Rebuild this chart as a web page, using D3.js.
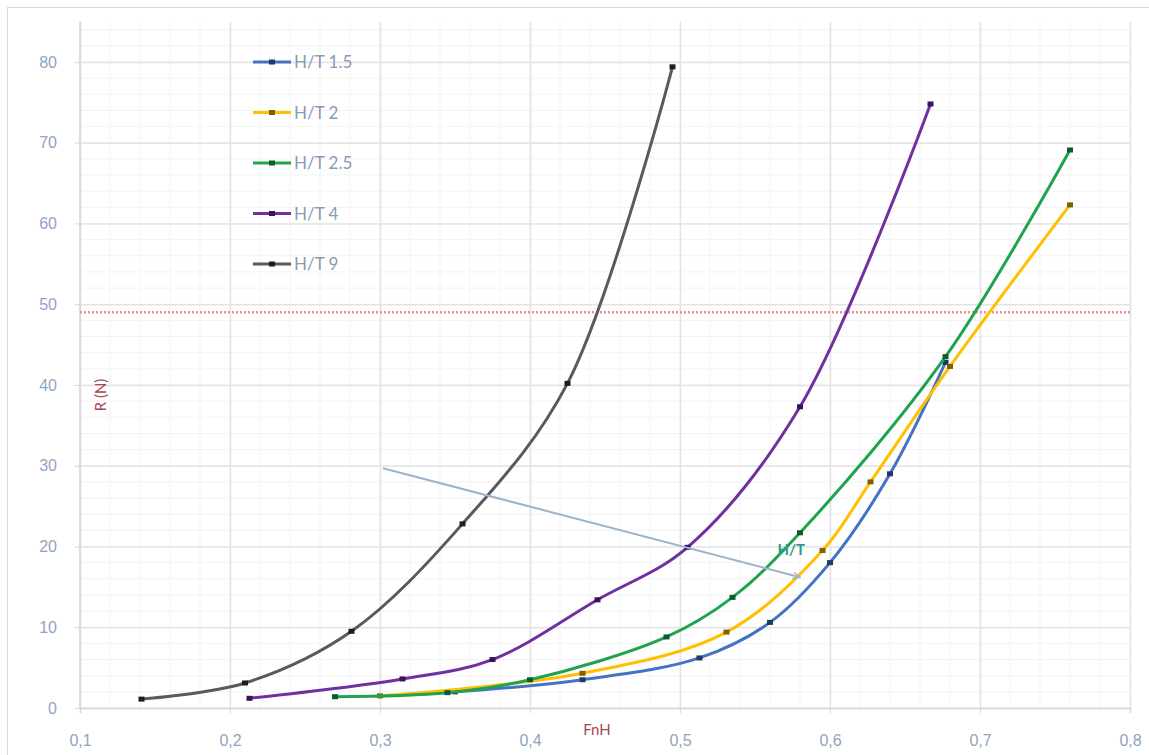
<!DOCTYPE html>
<html>
<head>
<meta charset="utf-8">
<script src="https://cdn.jsdelivr.net/npm/d3@7"></script>
<style>
  html, body { margin: 0; padding: 0; background: #ffffff; }
  svg { display: block; font-family: Lato, "Open Sans", "Liberation Sans", sans-serif; }
</style>
</head>
<body>
<svg id="chart" width="1149" height="755"></svg>
<script>
// Resistance R (N) against depth Froude number FnH for several H/T ratios
const seriesNames = ["H/T 1.5", "H/T 2", "H/T 2.5", "H/T 4", "H/T 9"];
const seriesColors = ["#4472C4", "#FFC000", "#1FA34F", "#7030A0", "#5A5A5A"];
const markerColors = ["#203864", "#7F6000", "#0E5A2B", "#3A1458", "#1E1E1E"];

const fnhHT15 = [0.350, 0.435, 0.513, 0.560, 0.600, 0.640, 0.677];
const resHT15 = [2.0, 3.5, 6.2, 10.6, 18.0, 29.0, 42.8];

const fnhHT2 = [0.300, 0.435, 0.531, 0.595, 0.627, 0.680, 0.760];
const resHT2 = [1.5, 4.3, 9.4, 19.5, 28.0, 42.3, 62.3];

const fnhHT25 = [0.270, 0.345, 0.400, 0.491, 0.535, 0.580, 0.677, 0.760];
const resHT25 = [1.4, 1.9, 3.5, 8.8, 13.7, 21.7, 43.5, 69.1];

const fnhHT4 = [0.213, 0.315, 0.375, 0.445, 0.505, 0.580, 0.667];
const resHT4 = [1.2, 3.6, 6.0, 13.4, 19.9, 37.3, 74.8];

const fnhHT9 = [0.141, 0.210, 0.281, 0.355, 0.425, 0.495];
const resHT9 = [1.1, 3.1, 9.5, 22.8, 40.2, 79.4];

const xTicks = [0.1, 0.2, 0.3, 0.4, 0.5, 0.6, 0.7, 0.8];
const yTicks = [0, 10, 20, 30, 40, 50, 60, 70, 80];
const limitR = 49;                       // dotted reference level
const trendStart = [0.302, 29.7];        // H/T trend arrow
const trendEnd = [0.580, 16.2];
const trendLabel = [0.565, 19.6];

const xs = [fnhHT15, fnhHT2, fnhHT25, fnhHT4, fnhHT9];
const ys = [resHT15, resHT2, resHT25, resHT4, resHT9];
const series = seriesNames.map((name, i) => ({
  name, color: seriesColors[i], mcolor: markerColors[i],
  pts: xs[i].map((v, j) => [v, ys[i][j]])
}));

const svg = d3.select("#chart");
const x = d3.scaleLinear().domain([0.1, 0.8]).range([80, 1130]);
const y = d3.scaleLinear().domain([0, 85]).range([708, 21.6]);

// chart frame
svg.append("rect").attr("x", 7.5).attr("y", 7.5).attr("width", 1160).attr("height", 760)
  .attr("fill", "#fff").attr("stroke", "#d9d9d9");

// minor grid
const minorX = d3.range(0.1, 0.8001, 0.02);
const minorY = d3.range(0, 85.01, 2);
svg.append("g").selectAll("line").data(minorX).join("line")
  .attr("x1", d => x(d)).attr("x2", d => x(d)).attr("y1", y(85)).attr("y2", y(0))
  .attr("stroke", "#f3f3f3").attr("stroke-width", 1);
svg.append("g").selectAll("line").data(minorY).join("line")
  .attr("x1", x(0.1)).attr("x2", x(0.8)).attr("y1", d => y(d)).attr("y2", d => y(d))
  .attr("stroke", "#f3f3f3").attr("stroke-width", 1);

// major grid
svg.append("g").attr("transform", `translate(0,${y(0)})`)
  .call(d3.axisBottom(x).tickValues(xTicks).tickSize(-(y(0) - y(85))).tickFormat(""))
  .call(g => g.select(".domain").remove())
  .call(g => g.selectAll("line").attr("stroke", "#e4e4e4").attr("stroke-width", 1.5));
svg.append("g").attr("transform", `translate(${x(0.1)},0)`)
  .call(d3.axisLeft(y).tickValues(yTicks).tickSize(-(x(0.8) - x(0.1))).tickFormat(""))
  .call(g => g.select(".domain").remove())
  .call(g => g.selectAll("line").attr("stroke", "#e4e4e4").attr("stroke-width", 1.5));

// axes
const tickColor = "#8FA4BF";
svg.append("g").attr("transform", `translate(0,${y(0)})`)
  .call(d3.axisBottom(x).tickValues(xTicks).tickSize(5).tickPadding(22)
    .tickFormat(d => d3.format(".1f")(d).replace(".", ",")))
  .call(g => g.select(".domain").attr("stroke", "#d6d6d6").attr("stroke-width", 1.5))
  .call(g => g.selectAll("line").attr("stroke", "#d6d6d6"))
  .call(g => g.selectAll("text").attr("fill", tickColor).attr("font-size", 16));
svg.append("g").attr("transform", `translate(${x(0.1)},0)`)
  .call(d3.axisLeft(y).tickValues(yTicks).tickSize(5).tickPadding(18))
  .call(g => g.select(".domain").attr("stroke", "#d6d6d6").attr("stroke-width", 1.5)
    .attr("d", `M0,${y(85)}V${y(0)}`))
  .call(g => g.selectAll("line").attr("stroke", "#d6d6d6"))
  .call(g => g.selectAll("text").attr("fill", tickColor).attr("font-size", 16));

// axis titles
svg.append("text").attr("x", 597).attr("y", 735).attr("text-anchor", "middle")
  .attr("fill", "#A8474C").attr("font-size", 15).text("FnH");
svg.append("text").attr("transform", `translate(106,${395}) rotate(-90)`)
  .attr("text-anchor", "middle").attr("fill", "#A8474C").attr("font-size", 15).text("R (N)");

// reference level
svg.append("line").attr("x1", x(0.1)).attr("x2", x(0.8))
  .attr("y1", y(limitR)).attr("y2", y(limitR))
  .attr("stroke", "#EE8F8F").attr("stroke-width", 2.5).attr("stroke-dasharray", "2,2");

// series
const line = d3.line().x(d => x(d[0])).y(d => y(d[1])).curve(d3.curveCatmullRom.alpha(0.5));
const sg = svg.append("g").selectAll("g").data(series).join("g");
sg.append("path").attr("d", d => line(d.pts)).attr("fill", "none")
  .attr("stroke", d => d.color).attr("stroke-width", 3).attr("stroke-linecap", "round");
sg.each(function (s) {
  d3.select(this).selectAll("rect").data(s.pts).join("rect")
    .attr("x", d => x(d[0]) - 3).attr("y", d => y(d[1]) - 2.5)
    .attr("width", 6).attr("height", 5).attr("fill", s.mcolor);
});

// H/T trend arrow
svg.append("defs").append("marker").attr("id", "tip").attr("viewBox", "0 0 10 10")
  .attr("refX", 9).attr("refY", 5).attr("markerWidth", 4).attr("markerHeight", 4)
  .attr("orient", "auto").append("path").attr("d", "M0,1L10,5L0,9").attr("fill", "none")
  .attr("stroke", "#9DB3CC").attr("stroke-width", 1.5);
svg.append("line").attr("x1", x(trendStart[0])).attr("y1", y(trendStart[1]))
  .attr("x2", x(trendEnd[0])).attr("y2", y(trendEnd[1]))
  .attr("stroke", "#9DB3CC").attr("stroke-width", 2).attr("marker-end", "url(#tip)");
svg.append("text").attr("x", x(trendLabel[0])).attr("y", y(trendLabel[1]) + 5)
  .attr("fill", "#2E9A8A").attr("font-size", 15).attr("font-weight", "bold").text("H/T");

// legend
const lg = svg.append("g").selectAll("g").data(series).join("g")
  .attr("transform", (d, i) => `translate(253,${62 + i * 50.5})`);
lg.append("line").attr("x1", 0).attr("x2", 38).attr("stroke", d => d.color).attr("stroke-width", 3);
lg.append("rect").attr("x", 16).attr("y", -2.5).attr("width", 6).attr("height", 5).attr("fill", d => d.mcolor);
lg.append("text").attr("x", 41).attr("y", 6).attr("fill", "#8A9AB2").attr("font-size", 17)
  .text(d => d.name);
</script>
</body>
</html>
